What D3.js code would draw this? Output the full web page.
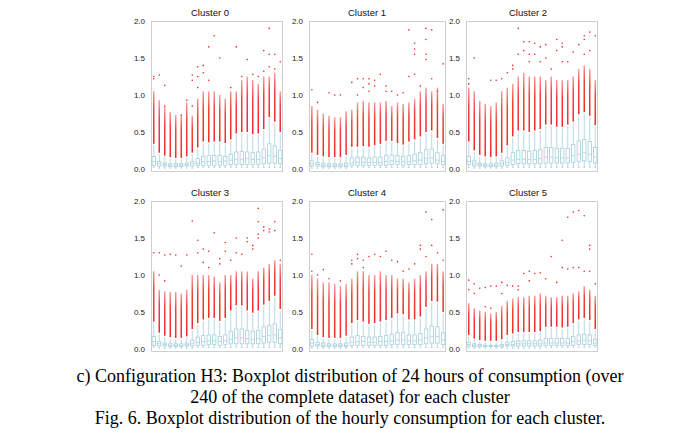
<!DOCTYPE html>
<html>
<head>
<meta charset="utf-8">
<script src="https://cdn.jsdelivr.net/npm/d3@7"></script>
<style>
  body { margin: 0; background: #fff; }
</style>
</head>
<body>
<svg id="chart" width="694" height="439"></svg>
<script>
// ---- data ----
var clusters = ["Cluster 0", "Cluster 1", "Cluster 2", "Cluster 3", "Cluster 4", "Cluster 5"];
var hours = [0,1,2,3,4,5,6,7,8,9,10,11,12,13,14,15,16,17,18,19,20,21,22,23];
var yTicks = [0.0, 0.5, 1.0, 1.5, 2.0];

var whiskerLow = [
  [.02,.01,.01,.01,.01,.01,.01,.01,.02,.02,.02,.02,.02,.02,.02,.02,.02,.02,.02,.02,.02,.02,.02,.02],
  [.01,.01,.01,.01,.01,.01,.01,.02,.02,.02,.02,.02,.02,.02,.02,.02,.02,.02,.02,.02,.02,.02,.02,.02],
  [.02,.01,.01,.01,.01,.01,.01,.02,.02,.02,.02,.02,.02,.02,.02,.02,.02,.02,.02,.02,.02,.02,.02,.02],
  [.02,.01,.01,.01,.01,.01,.01,.01,.02,.02,.02,.02,.02,.02,.02,.02,.02,.02,.02,.02,.02,.02,.02,.02],
  [.01,.01,.01,.01,.01,.01,.01,.02,.02,.02,.02,.02,.02,.02,.02,.02,.02,.02,.02,.02,.02,.02,.02,.02],
  [.01,.01,.01,.01,.01,.01,.01,.01,.01,.01,.01,.01,.01,.01,.02,.02,.02,.02,.02,.02,.02,.02,.02,.02]
];
var q1 = [
  [.05,.04,.04,.03,.03,.03,.04,.04,.05,.05,.05,.05,.05,.05,.06,.06,.06,.06,.06,.06,.07,.08,.08,.07],
  [.04,.04,.03,.03,.03,.03,.03,.05,.05,.05,.05,.05,.05,.05,.06,.06,.05,.06,.06,.06,.07,.08,.07,.06],
  [.06,.04,.04,.03,.03,.03,.04,.05,.06,.07,.07,.07,.07,.07,.08,.08,.08,.08,.08,.09,.10,.11,.10,.08],
  [.05,.04,.04,.03,.03,.03,.04,.04,.05,.05,.06,.06,.05,.06,.07,.07,.07,.07,.07,.07,.08,.09,.09,.07],
  [.04,.04,.03,.03,.03,.03,.03,.05,.05,.05,.05,.05,.05,.05,.06,.06,.06,.06,.06,.06,.07,.08,.08,.06],
  [.04,.03,.03,.03,.03,.03,.03,.04,.04,.04,.04,.04,.04,.04,.05,.05,.05,.05,.05,.05,.06,.06,.06,.05]
];
var median = [
  [.10,.07,.06,.05,.05,.05,.06,.07,.08,.10,.10,.11,.10,.11,.12,.13,.13,.14,.13,.13,.15,.18,.17,.14],
  [.07,.06,.05,.05,.05,.05,.05,.08,.09,.09,.09,.09,.09,.10,.11,.10,.10,.10,.11,.12,.14,.15,.12,.10],
  [.10,.07,.06,.05,.05,.05,.07,.09,.12,.13,.13,.13,.13,.14,.16,.16,.15,.15,.15,.18,.20,.22,.20,.16],
  [.10,.07,.06,.05,.05,.05,.06,.07,.09,.10,.11,.11,.10,.11,.13,.15,.15,.14,.13,.14,.17,.18,.19,.15],
  [.08,.06,.05,.05,.05,.05,.05,.09,.10,.10,.09,.09,.10,.10,.11,.12,.12,.11,.11,.12,.15,.17,.17,.12],
  [.06,.05,.04,.04,.04,.04,.04,.06,.06,.07,.07,.07,.07,.07,.08,.08,.08,.08,.08,.10,.11,.12,.11,.08]
];
var q3 = [
  [.17,.10,.08,.07,.07,.07,.08,.10,.14,.17,.18,.18,.18,.17,.20,.23,.24,.23,.22,.23,.27,.34,.31,.25],
  [.11,.09,.08,.07,.07,.07,.08,.15,.16,.16,.15,.16,.16,.18,.19,.18,.17,.18,.20,.22,.26,.27,.22,.18],
  [.17,.11,.08,.07,.07,.08,.11,.15,.22,.25,.25,.24,.25,.26,.29,.29,.28,.28,.28,.33,.38,.40,.37,.29],
  [.17,.10,.08,.07,.07,.07,.08,.12,.16,.18,.19,.19,.17,.19,.24,.27,.27,.25,.24,.25,.30,.32,.34,.26],
  [.13,.09,.08,.07,.07,.07,.08,.16,.18,.17,.16,.16,.17,.18,.20,.22,.22,.19,.19,.21,.27,.31,.30,.22],
  [.09,.07,.06,.05,.05,.05,.06,.09,.10,.11,.11,.11,.11,.12,.14,.14,.14,.14,.14,.17,.19,.20,.19,.13]
];
var whiskerHigh = [
  [.32,.20,.16,.14,.13,.13,.15,.20,.27,.35,.34,.35,.35,.33,.38,.46,.48,.48,.45,.46,.52,.68,.62,.48],
  [.20,.17,.15,.14,.14,.14,.17,.28,.28,.29,.28,.30,.32,.36,.36,.33,.31,.35,.38,.42,.48,.50,.40,.32],
  [.35,.23,.17,.15,.14,.15,.20,.30,.42,.50,.50,.48,.50,.52,.58,.58,.55,.55,.58,.62,.72,.75,.70,.57],
  [.35,.20,.16,.14,.13,.13,.15,.25,.33,.38,.40,.40,.36,.40,.50,.57,.57,.50,.47,.50,.58,.63,.70,.52],
  [.25,.17,.14,.13,.13,.13,.16,.33,.37,.35,.32,.33,.35,.37,.40,.46,.45,.38,.38,.42,.55,.63,.62,.48],
  [.17,.12,.10,.09,.09,.09,.11,.17,.19,.21,.21,.21,.21,.22,.28,.28,.28,.27,.28,.33,.38,.40,.37,.25]
];
// top of the dense run of outliers above the upper whisker
var outlierTop = [
  [1.05,.93,.84,.77,.73,.73,.90,.72,.95,1.05,1.05,1.05,1.00,.95,1.05,1.05,1.20,1.25,1.20,1.15,1.25,1.25,1.30,1.05],
  [.85,.80,.75,.72,.70,.70,.78,.80,.90,.92,.90,.90,.90,.92,.85,.90,.88,.90,.95,1.05,1.10,1.05,1.10,.88],
  [1.10,1.05,.92,.88,.85,.90,1.05,1.10,1.15,1.25,1.30,1.25,1.25,1.25,1.20,1.25,1.20,1.20,1.20,1.25,1.35,1.40,1.35,1.20],
  [1.05,.80,.78,.77,.77,.75,.80,1.00,1.00,1.00,1.00,.98,.90,1.00,1.00,1.05,1.05,1.05,.95,1.05,1.10,1.15,1.20,1.15],
  [1.00,.95,.90,.90,.88,.85,.88,.95,1.05,1.05,1.00,1.00,1.05,1.00,1.00,.95,.95,.90,.95,1.00,1.05,1.15,1.15,1.05],
  [.62,.55,.52,.50,.48,.50,.58,.65,.68,.70,.70,.72,.72,.75,.72,.70,.70,.72,.72,.75,.78,.85,.80,.72]
];
// isolated outliers: [hour, value]
var sparseOutliers = [
  [[0,1.22],[0,1.25],[1,1.27],[2,1.13],[2,.85],[5,.73],[6,.93],[7,.85],[7,1.20],[7,1.27],[8,1.10],[8,1.25],[8,1.38],
   [9,1.30],[9,1.40],[10,1.20],[10,1.65],[11,1.80],[12,1.50],[14,1.10],[15,1.65],[16,1.25],[17,1.48],[18,1.28],
   [19,1.25],[20,1.32],[20,1.60],[21,1.90],[21,1.55],[21,1.38],[22,1.55],[22,1.35],[23,1.45]],
  [[0,1.07],[1,.90],[3,1.03],[4,1.00],[5,1.00],[7,1.17],[8,1.00],[8,1.22],[9,1.22],[9,1.10],[10,1.15],[10,1.05],
   [10,1.22],[11,1.20],[11,1.12],[12,1.28],[13,1.05],[13,1.12],[14,1.05],[15,1.00],[16,1.03],[17,1.88],[17,1.25],
   [18,1.70],[18,1.62],[18,1.55],[18,1.28],[19,1.12],[20,1.90],[20,1.75],[20,1.55],[20,1.48],[21,1.88],[21,1.22],
   [22,1.05],[23,1.42]],
  [[0,1.22],[0,1.15],[1,1.50],[4,1.20],[5,1.20],[6,1.22],[7,1.30],[8,1.40],[8,1.35],[9,1.90],[9,1.55],[10,1.72],
   [10,1.60],[11,1.72],[11,1.55],[11,1.45],[12,1.70],[12,1.55],[13,1.65],[13,1.45],[14,1.68],[14,1.50],[15,1.35],
   [16,1.75],[16,1.60],[17,1.70],[17,1.65],[17,1.45],[18,1.45],[19,1.58],[20,1.68],[21,1.80],[21,1.75],[21,1.55],
   [22,1.85],[22,1.60],[23,1.80]],
  [[0,1.30],[1,1.30],[1,1.00],[2,1.27],[2,.92],[3,1.28],[4,1.27],[5,1.12],[6,1.27],[7,1.73],[8,1.47],[8,1.30],
   [9,1.35],[9,1.17],[10,1.32],[10,1.10],[11,1.57],[12,1.22],[12,1.15],[13,1.44],[13,1.32],[14,1.20],[15,1.50],
   [15,1.30],[16,1.28],[17,1.50],[17,1.45],[18,1.40],[18,1.35],[19,1.90],[19,1.72],[19,1.55],[19,1.50],[20,1.65],
   [20,1.60],[21,1.62],[21,1.58],[22,1.72],[22,1.60],[23,1.20]],
  [[0,1.28],[0,1.05],[1,1.00],[2,1.07],[3,.95],[5,.92],[7,1.20],[7,1.15],[8,1.28],[8,1.22],[9,1.20],[9,1.10],
   [10,1.25],[11,1.28],[12,1.25],[13,1.32],[14,1.20],[15,1.18],[16,1.05],[17,1.08],[18,1.15],[19,1.40],[19,1.35],
   [20,1.85],[20,1.25],[21,1.75],[21,1.40],[22,1.30],[23,1.88],[23,1.20]],
  [[0,.93],[0,.80],[1,.88],[1,.75],[2,.82],[3,.83],[3,.57],[4,.85],[4,.55],[5,.85],[6,.90],[6,.75],[7,.86],[8,.85],
   [9,.85],[9,.80],[10,1.02],[11,1.05],[11,.92],[12,1.02],[13,1.03],[14,.95],[15,1.25],[16,.90],[17,1.47],[17,1.10],
   [18,1.78],[18,1.08],[19,1.85],[19,1.10],[20,1.87],[20,1.10],[21,1.80],[21,1.05],[22,1.40],[22,1.35],[22,1.05],[23,.88]]
];

var captionLines = [
  "c) Configuration H3: Boxplot distribution of 24 hours of consumption (over",
  "240 of the complete dataset) for each cluster",
  "Fig. 6. Boxplot distribution of the hourly consumption for each cluster."
];

// ---- layout ----
var colLeft = [151, 309, 466],
    colRight = [283, 446, 598],
    titleX = [210, 367, 528],
    rowTop = [21, 201],
    plotH = 151;

var boxColor = "#a6cfdb",
    redColor = "#ef2b2b";

var svg = d3.select("#chart");

// dense outlier runs fade a little towards their top, where the points thin out
var grad = svg.append("defs").append("linearGradient")
    .attr("id", "denseFade")
    .attr("x1", 0).attr("y1", 1).attr("x2", 0).attr("y2", 0);
grad.append("stop").attr("offset", "0%").attr("stop-color", redColor).attr("stop-opacity", 1);
grad.append("stop").attr("offset", "65%").attr("stop-color", redColor).attr("stop-opacity", 0.9);
grad.append("stop").attr("offset", "100%").attr("stop-color", redColor).attr("stop-opacity", 0.45);

clusters.forEach(function(name, c) {
  var col = c % 3, row = Math.floor(c / 3);
  var left = colLeft[col], right = colRight[col], top = rowTop[row];

  var x = d3.scalePoint().domain(hours).range([left, right]).padding(0.5);
  var y = d3.scaleLinear().domain([-0.041, 2.0]).range([top + plotH, top]);
  var bw = x.step() * 0.6;

  var g = svg.append("g").attr("class", "panel");

  g.append("rect")
    .attr("x", left + 0.5)
    .attr("y", top + 0.5)
    .attr("width", right - left - 1)
    .attr("height", plotH - 1)
    .attr("fill", "none")
    .attr("stroke", "#cfcfcf")
    .attr("stroke-width", 1);

  var yAxis = d3.axisLeft(y)
    .tickValues(yTicks)
    .tickFormat(d3.format(".1f"))
    .tickSize(0)
    .tickPadding(6);

  var ax = g.append("g")
    .attr("transform", "translate(" + left + ",0)")
    .call(yAxis);
  ax.select(".domain").remove();
  ax.selectAll("text")
    .attr("fill", "#222")
    .style("font-family", "'Liberation Sans', Arial, sans-serif")
    .style("font-size", "8px");

  g.append("text")
    .attr("x", titleX[col])
    .attr("y", top - 5)
    .attr("text-anchor", "middle")
    .style("font-family", "'Liberation Sans', Arial, sans-serif")
    .style("font-size", "9.5px")
    .attr("fill", "#111")
    .text(name);

  var stats = hours.map(function(h, i) {
    return {h: h, lo: whiskerLow[c][i], q1: q1[c][i], med: median[c][i],
            q3: q3[c][i], hi: whiskerHigh[c][i], top: outlierTop[c][i]};
  });

  // whiskers
  g.selectAll(".whisk").data(stats).enter().append("line")
    .attr("x1", d => x(d.h)).attr("x2", d => x(d.h))
    .attr("y1", d => y(d.lo)).attr("y2", d => y(d.hi))
    .attr("stroke", boxColor).attr("stroke-width", 0.8);

  g.selectAll(".cap").data(stats).enter().append("line")
    .attr("x1", d => x(d.h) - bw / 4).attr("x2", d => x(d.h) + bw / 4)
    .attr("y1", d => y(d.lo)).attr("y2", d => y(d.lo))
    .attr("stroke", boxColor).attr("stroke-width", 0.8);

  // boxes
  g.selectAll(".box").data(stats).enter().append("rect")
    .attr("x", d => x(d.h) - bw / 2)
    .attr("y", d => y(d.q3))
    .attr("width", bw)
    .attr("height", d => y(d.q1) - y(d.q3))
    .attr("fill", "#fff")
    .attr("stroke", boxColor)
    .attr("stroke-width", 0.8);

  g.selectAll(".med").data(stats).enter().append("line")
    .attr("x1", d => x(d.h) - bw / 2).attr("x2", d => x(d.h) + bw / 2)
    .attr("y1", d => y(d.med)).attr("y2", d => y(d.med))
    .attr("stroke", boxColor).attr("stroke-width", 0.8);

  // dense outlier runs
  g.selectAll(".dense").data(stats).enter().append("rect")
    .attr("x", d => x(d.h) - 0.75)
    .attr("y", d => y(d.top))
    .attr("width", 1.5)
    .attr("height", d => y(d.hi + 0.02) - y(d.top))
    .attr("fill", "url(#denseFade)");

  // isolated outliers
  g.selectAll(".out").data(sparseOutliers[c]).enter().append("circle")
    .attr("cx", d => x(d[0]))
    .attr("cy", d => y(d[1]))
    .attr("r", 0.8)
    .attr("fill", redColor);
});

// caption
svg.selectAll(".caption").data(captionLines).enter().append("text")
  .attr("x", 350)
  .attr("y", (d, i) => 382 + i * 21)
  .attr("text-anchor", "middle")
  .style("font-family", "'Liberation Serif', 'Times New Roman', serif")
  .style("font-size", "18px")
  .attr("fill", "#000")
  .text(d => d);
</script>
</body>
</html>
